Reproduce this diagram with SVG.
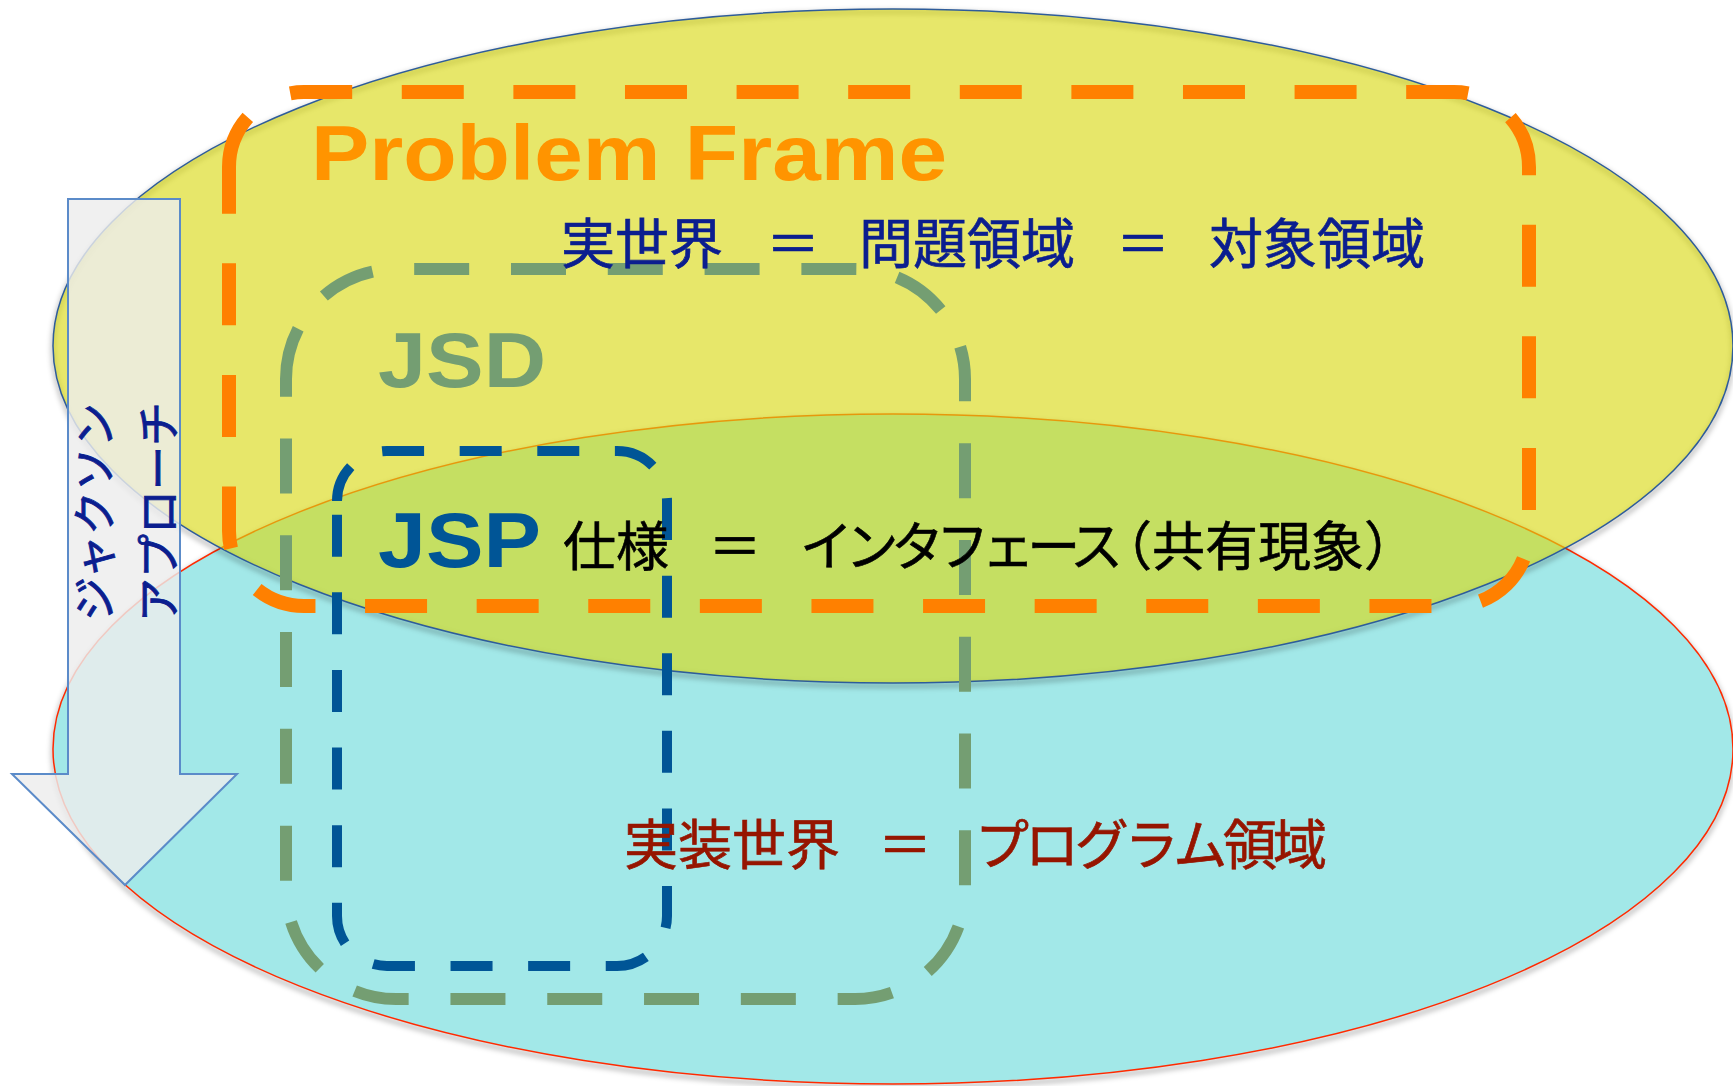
<svg xmlns="http://www.w3.org/2000/svg" width="1733" height="1086" viewBox="0 0 1733 1086">
<defs>
<style>
.jp{font-family:"Noto Sans CJK JP","Noto Sans CJK SC",sans-serif;}
.lat{font-family:"Liberation Sans",Arial,sans-serif;font-weight:bold;}
.frame{fill:none;stroke-linecap:butt;}
.shadow{fill:none;stroke:#000;stroke-opacity:0.22;stroke-width:5;}
.blue{fill:#0B1E8F;stroke:#0B1E8F;stroke-width:0.7;}
.red{fill:#961500;stroke:#961500;stroke-width:0.7;}
.black{fill:#000;stroke:#000;stroke-width:0.6;}
</style>
<filter id="blur" x="-5%" y="-5%" width="110%" height="110%"><feGaussianBlur stdDeviation="2.5"/></filter>
</defs>
<rect width="1733" height="1086" fill="#ffffff"/>

<g id="implementation-world">
  <ellipse class="shadow" cx="893" cy="752" rx="840" ry="335" filter="url(#blur)"/>
  <ellipse cx="893" cy="749" rx="840" ry="335" fill="#A2E8E8" stroke="#FF2A00" stroke-width="1.5"/>
</g>

<g id="real-world">
  <ellipse class="shadow" cx="893" cy="349" rx="840" ry="337" filter="url(#blur)"/>
  <ellipse cx="893" cy="346" rx="840" ry="337" fill="#D9D913" fill-opacity="0.63" stroke="#2E5C9A" stroke-width="1.5"/>
</g>

<g id="problem-frame">
  <path class="frame" d="M229,167 A75,75 0 0 1 304,92 H1454 A75,75 0 0 1 1529,167 V531 A75,75 0 0 1 1454,606 H304 A75,75 0 0 1 229,531 Z" stroke="#FF8000" stroke-width="14" stroke-dasharray="62 49.6" stroke-dashoffset="7.8"/>
</g>

<g id="jsd">
  <path class="frame" d="M286,379 A110,110 0 0 1 396,269 H855 A110,110 0 0 1 965,379 V889 A110,110 0 0 1 855,999 H396 A110,110 0 0 1 286,889 Z" stroke="#749E72" stroke-width="12" stroke-dasharray="55 41.8" stroke-dashoffset="2.8"/>
</g>

<g id="jsp">
  <path class="frame" d="M337,501 A50,50 0 0 1 387,451 H617 A50,50 0 0 1 667,501 V916 A50,50 0 0 1 617,966 H387 A50,50 0 0 1 337,916 Z" stroke="#005596" stroke-width="10" stroke-dasharray="42 35.6" stroke-dashoffset="4.1"/>
</g>

<g id="connectors">
  <polygon points="68,199 180,199 180,774 237,774 125,885 12,774 68,774" fill="#EDEDED" fill-opacity="0.82" stroke="#5B8BC9" stroke-width="2"/>
  <text class="jp blue" font-size="44" text-anchor="middle" style="stroke-width:0.9" transform="translate(111,512) rotate(-90)">ジャクソン</text>
  <text class="jp blue" font-size="44" text-anchor="middle" style="stroke-width:0.9" transform="translate(175,512) rotate(-90)">アプローチ</text>
</g>

<g id="labels">
  <text class="lat" x="311" y="180" font-size="78" fill="#FF9400" textLength="636" lengthAdjust="spacingAndGlyphs">Problem Frame</text>
  <text class="lat" x="378" y="387" font-size="78" fill="#749E72" textLength="168" lengthAdjust="spacingAndGlyphs">JSD</text>
  <text class="lat" x="378" y="567" font-size="78" fill="#005596" textLength="163" lengthAdjust="spacingAndGlyphs">JSP</text>

  <g class="jp blue" font-size="54" text-anchor="middle">
    <text x="642" y="264">実世界</text>
    <text x="793" y="264">＝</text>
    <text x="967" y="264">問題領域</text>
    <text x="1143" y="264">＝</text>
    <text x="1317" y="264">対象領域</text>
  </g>

  <g class="jp black" font-size="53">
    <text x="616" y="566" text-anchor="middle">仕様</text>
    <text x="735" y="566" text-anchor="middle">＝</text>
    <text x="800" y="566" textLength="323" lengthAdjust="spacing">インタフェース</text>
    <text x="1099" y="566">（共有現象）</text>
  </g>

  <g class="jp red" font-size="54">
    <text x="732" y="865" text-anchor="middle">実装世界</text>
    <text x="905" y="865" text-anchor="middle">＝</text>
    <text x="975" y="865" textLength="352" lengthAdjust="spacing">プログラム領域</text>
  </g>
</g>
</svg>
